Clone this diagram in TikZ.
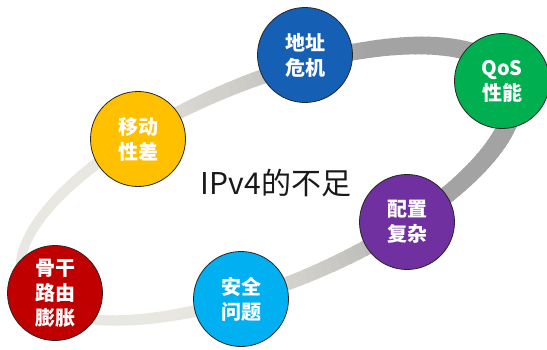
\documentclass[tikz,border=0pt]{standalone}
\usepackage{fontspec}
\setmainfont{Noto Sans CJK SC}
\begin{document}
\begin{tikzpicture}[x=1pt,y=1pt]
\definecolor{ringdark}{HTML}{A3A3A3}
\definecolor{ringmid}{HTML}{CBCAC5}
\definecolor{ringlight}{HTML}{E9E7E1}
\definecolor{cblue}{HTML}{1560B4}
\definecolor{cgreen}{HTML}{00B050}
\definecolor{cyellow}{HTML}{FFC000}
\definecolor{cpurple}{HTML}{7030A0}
\definecolor{clblue}{HTML}{00B0F0}
\definecolor{cred}{HTML}{C00000}
\tikzset{
  bubble/.style={circle, draw=black!85, line width=0.8pt, minimum size=95pt, inner sep=0pt,
    font=\bfseries\fontsize{20}{25}\selectfont, text=white, align=center},
  titletext/.style={font=\fontsize{30}{36}\selectfont, text=black!90}
}
\useasboundingbox (0,0) rectangle (547,349);
\begin{scope}[shift={(267,166)}, rotate=22.5]
\foreach \t in {0,2,...,358}{
  \pgfmathsetmacro\c{cos(\t+1)}
  \pgfmathsetmacro\w{14+5*\c}
  \pgfmathtruncatemacro\p{max(0,min(100,(\c-0.1)/0.45*100))}
  \pgfmathtruncatemacro\q{max(0,min(100,(0.1-\c)/0.6*100))}
  \ifnum\p>0 \colorlet{ringc}{ringdark!\p!ringmid}\else\colorlet{ringc}{ringlight!\q!ringmid}\fi
  \draw[ringc, line width=\w pt] (\t:264 and 101) -- (\t+2.4:264 and 101);
}
\end{scope}
\node[titletext] (title) at (276,166) {IPv4的不足};
\node[bubble, fill=cblue] (addr) at (305,294) {地址\\危机};
\node[bubble, fill=cgreen] (qos) at (502,268) {QoS\\性能};
\node[bubble, fill=cyellow] (mob) at (138,210) {移动\\性差};
\node[bubble, fill=cpurple] (conf) at (407,127) {配置\\复杂};
\node[bubble, fill=clblue] (sec) at (241,50) {安全\\问题};
\node[bubble, fill=cred] (route) at (55,56) {骨干\\路由\\膨胀};
\end{tikzpicture}
\end{document}
